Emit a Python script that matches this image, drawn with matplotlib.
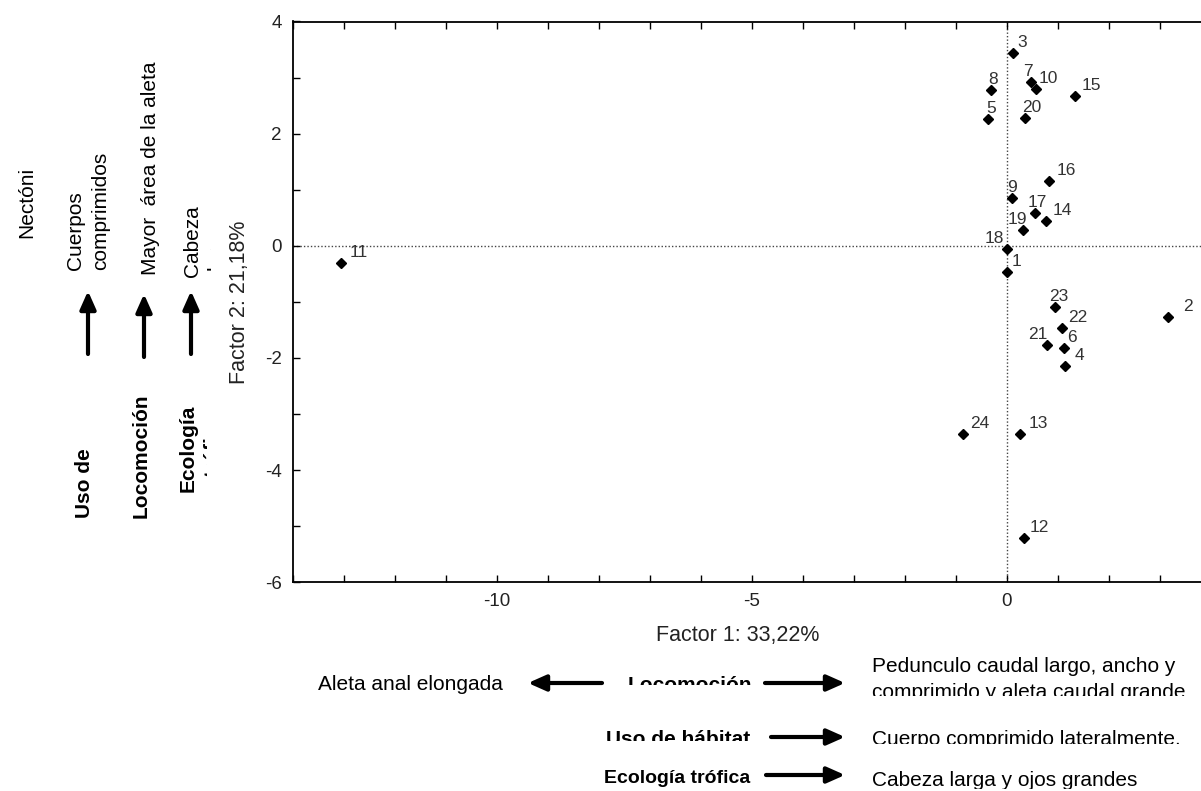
import matplotlib
matplotlib.use('Agg')
import matplotlib.pyplot as plt
from matplotlib.transforms import Affine2D, Bbox
from matplotlib.patches import FancyArrowPatch
from matplotlib.ticker import MultipleLocator

plt.rcParams['font.family'] = ['Liberation Sans', 'DejaVu Sans']
plt.rcParams['axes.unicode_minus'] = False

# puntuaciones de las especies en los dos primeros factores
especies = list(range(1, 25))
factor1 = [0.00, 3.17, 0.13, 1.15, -0.36, 1.13, 0.48, -0.30, 0.10, 0.58, -13.05, 0.33,
           0.27, 0.77, 1.34, 0.82, 0.55, 0.00, 0.32, 0.36, 0.79, 1.09, 0.94, -0.86]
factor2 = [-0.46, -1.27, 3.43, -2.15, 2.26, -1.83, 2.92, 2.78, 0.86, 2.80, -0.31, -5.21,
           -3.35, 0.45, 2.67, 1.16, 0.58, -0.05, 0.29, 2.28, -1.76, -1.46, -1.09, -3.35]
var_f1 = '33,22%'
var_f2 = '21,18%'

# desplazamiento horizontal (px) de cada etiqueta respecto a su punto
dx_etiqueta = {1: 5, 2: 15, 3: 4, 4: 9, 5: -2, 6: 3, 7: -8, 8: -3, 9: -5, 10: 2, 11: 8, 12: 6,
               13: 8, 14: 7, 15: 7, 16: 8, 17: -7, 18: -22, 19: -15, 20: -3, 21: -19, 22: 6,
               23: -6, 24: 7}

W, H = 1201, 791
fig = plt.figure(figsize=(W / 100, H / 100), dpi=100)
# coordenadas en pixeles con origen arriba a la izquierda
pix = Affine2D().scale(1 / W, -1 / H).translate(0, 1) + fig.transFigure

ax = fig.add_axes([292.7 / W, (H - 582.3) / H, 918 / W, 560.8 / H])
ax.plot(factor1, factor2, 'D', color='black', ms=5, zorder=3, clip_on=False)
for n, x, y in zip(especies, factor1, factor2):
    ax.annotate(str(n), (x, y), xytext=(dx_etiqueta[n], 6), textcoords='offset pixels',
                ha='left', va='baseline', fontsize=12.5, color='#333333')

ax.axhline(0, color='#444444', lw=1, ls=(0, (1, 1.5)), zorder=1)
ax.axvline(0, color='#444444', lw=1, ls=(0, (1, 1.5)), zorder=1)

ax.set_xlim(-14, 4)
ax.set_ylim(-6, 4)
ax.xaxis.set_major_locator(MultipleLocator(5))
ax.xaxis.set_minor_locator(MultipleLocator(1))
ax.yaxis.set_major_locator(MultipleLocator(2))
ax.yaxis.set_minor_locator(MultipleLocator(1))
ax.tick_params(which='both', direction='in', top=True, right=False, length=5, width=1,
               labelsize=13.5, labelcolor='#222222', pad=8)
for s in ['left', 'bottom', 'top']:
    ax.spines[s].set_linewidth(1.3)
ax.spines['right'].set_visible(False)

ax.set_xlabel('Factor 1: ' + var_f1, fontsize=15.5, color='#222222')
ax.xaxis.set_label_coords(0.485, -0.076)
ax.set_ylabel('Factor 2: ' + var_f2, fontsize=15.5, color='#222222')
ax.yaxis.set_label_coords(-0.047, 0.5)


def texto(x, y, s, rot=0, bold=False, recorte=None, size=15):
    t = fig.text(x, y, s, transform=pix, rotation=rot, rotation_mode='anchor',
                 ha='left', va='baseline', fontsize=size,
                 fontweight='bold' if bold else 'normal')
    if recorte is not None:
        x0, y0, x1, y1 = recorte
        t.set_clip_box(Bbox.from_extents(x0, H - y1, x1, H - y0))
        t.set_clip_on(True)
    return t


def flecha(x0, y0, x1, y1):
    fig.add_artist(FancyArrowPatch((x0, y0), (x1, y1), transform=pix,
                                   arrowstyle='-|>,head_length=0.9,head_width=0.4',
                                   mutation_scale=12, lw=3, color='black',
                                   shrinkA=0, shrinkB=0))


# interpretacion del factor 2 (izquierda)
texto(32, 238, 'Nectóni', rot=90)
texto(81, 270, 'Cuerpos', rot=90)
texto(106, 270, 'comprimidos', rot=90)
texto(156, 275, 'Mayor  área de la aleta', rot=90)
texto(198, 277, 'Cabeza', rot=90)
texto(223, 271, 'larga y', rot=90, recorte=(0, 0, 211, H))
for xf in [88, 191]:
    flecha(xf, 354, xf, 291)
flecha(144, 357, 144, 294)
texto(90, 518, 'Uso de', rot=90, bold=True)
texto(147, 518, 'Locomoción', rot=90, bold=True)
texto(194, 492, 'Ecología', rot=90, bold=True)
texto(219, 477, 'trófica', rot=90, bold=True, recorte=(0, 0, 207, H))

# interpretacion del factor 1 (abajo)
texto(318, 690, 'Aleta anal elongada')
flecha(602, 683, 528, 683)
texto(628, 691, 'Locomoción', bold=True, recorte=(0, 0, W, 685))
flecha(765, 683, 845, 683)
texto(872, 672, 'Pedunculo caudal largo, ancho y')
texto(872, 698, 'comprimido y aleta caudal grande', recorte=(0, 0, W, 696))
texto(606, 745, 'Uso de hábitat', bold=True, recorte=(0, 0, W, 741))
flecha(771, 737, 845, 737)
texto(872, 745, 'Cuerpo comprimido lateralmente.', recorte=(0, 0, W, 744))
texto(604, 783, 'Ecología trófica', bold=True, size=14)
flecha(766, 775, 845, 775)
texto(872, 786, 'Cabeza larga y ojos grandes', recorte=(0, 0, W, 789))

fig.savefig('out.png', dpi=100)
